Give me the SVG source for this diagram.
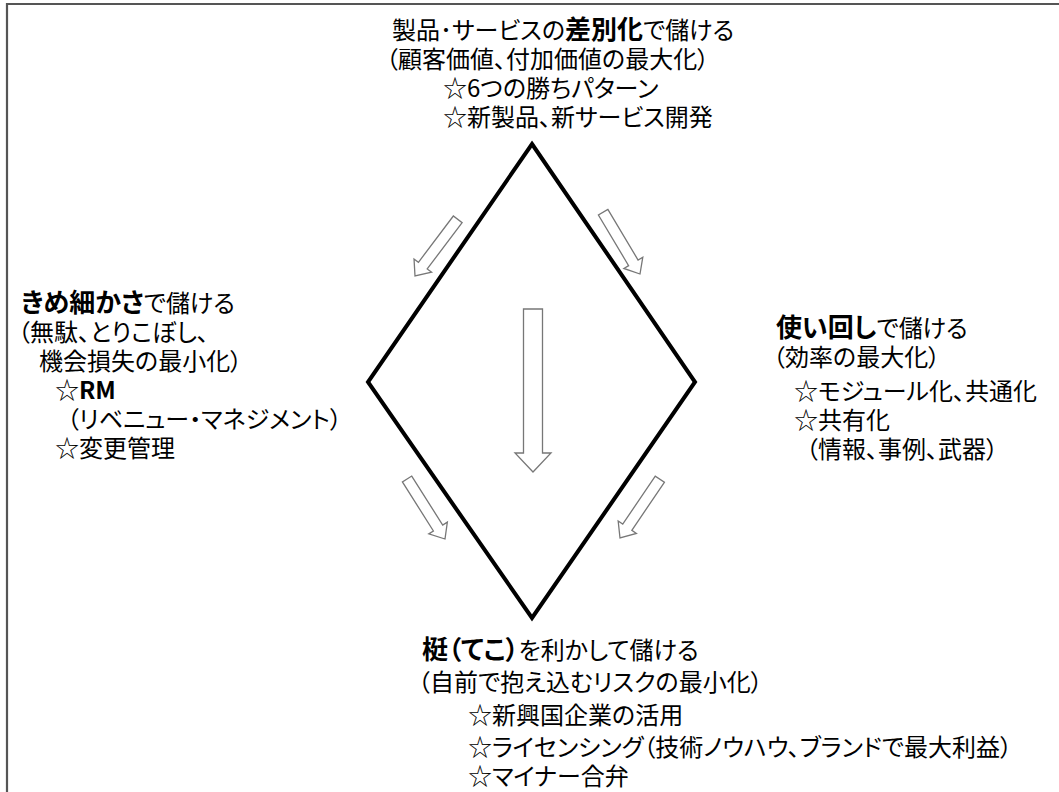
<svg xmlns="http://www.w3.org/2000/svg" width="1059" height="792" viewBox="0 0 1059 792">
<style>
text{font-family:"Noto Sans CJK JP","Noto Sans",sans-serif;font-size:24px;fill:#000;font-feature-settings:"palt" 1;}
.b{font-weight:bold;font-size:26px;}
.rm{font-weight:bold;}
.arr{fill:#fff;stroke:#777;stroke-width:1.3;stroke-linejoin:miter;}
</style>
<rect width="1059" height="792" fill="#fff"/>
<path d="M7,792 V4 H1059" fill="none" stroke="#555" stroke-width="2.2"/>
<g id="diamond">
<polygon points="532,144 695,382 532,618 368,382" fill="none" stroke="#000" stroke-width="4"/>
</g>
<g id="connectors">
<polygon class="arr" points="-71,-5.5 -13,-5.5 -13,-11 0,0 -13,11 -13,5.5 -71,5.5" transform="translate(415,276) rotate(127)"/>
<polygon class="arr" points="-72,-5.5 -13,-5.5 -13,-11 0,0 -13,11 -13,5.5 -72,5.5" transform="translate(640,274) rotate(59.2)"/>
<polygon class="arr" points="-71,-5.5 -13,-5.5 -13,-11 0,0 -13,11 -13,5.5 -71,5.5" transform="translate(445,539) rotate(57.7)"/>
<polygon class="arr" points="-71,-5.5 -13,-5.5 -13,-11 0,0 -13,11 -13,5.5 -71,5.5" transform="translate(620,538) rotate(124.1)"/>
<polygon class="arr" points="523.5,309 542.5,309 542.5,453 551,453 533,472 515,453 523.5,453"/>
</g>
<g id="top">
<text x="392" y="39">製品･サービスの<tspan class="b">差別化</tspan>で儲ける</text>
<text x="386" y="68">（顧客価値、付加価値の最大化）</text>
<text x="443" y="97">☆6つの勝ちパターン</text>
<text x="443" y="126">☆新製品、新サービス開発</text>
</g>
<g id="left">
<text x="21" y="312"><tspan class="b">きめ細かさ</tspan>で儲ける</text>
<text x="18" y="341">（無駄、とりこぼし、</text>
<text x="39" y="370">機会損失の最小化）</text>
<text x="55" y="399">☆<tspan class="rm">RM</tspan></text>
<text x="67" y="428">（リベニュー・マネジメント）</text>
<text x="55" y="457">☆変更管理</text>
</g>
<g id="right">
<text x="776" y="337"><tspan class="b">使い回し</tspan>で儲ける</text>
<text x="773" y="366">（効率の最大化）</text>
<text x="794" y="400">☆モジュール化、共通化</text>
<text x="794" y="429">☆共有化</text>
<text x="806" y="458">（情報、事例、武器）</text>
</g>
<g id="bottom">
<text x="422" y="659"><tspan class="b">梃（てこ）</tspan>を利かして儲ける</text>
<text x="418" y="691">（自前で抱え込むリスクの最小化）</text>
<text x="468" y="724">☆新興国企業の活用</text>
<text x="468" y="756">☆ライセンシング（技術ノウハウ、ブランドで最大利益）</text>
<text x="468" y="785">☆マイナー合弁</text>
</g>
</svg>
